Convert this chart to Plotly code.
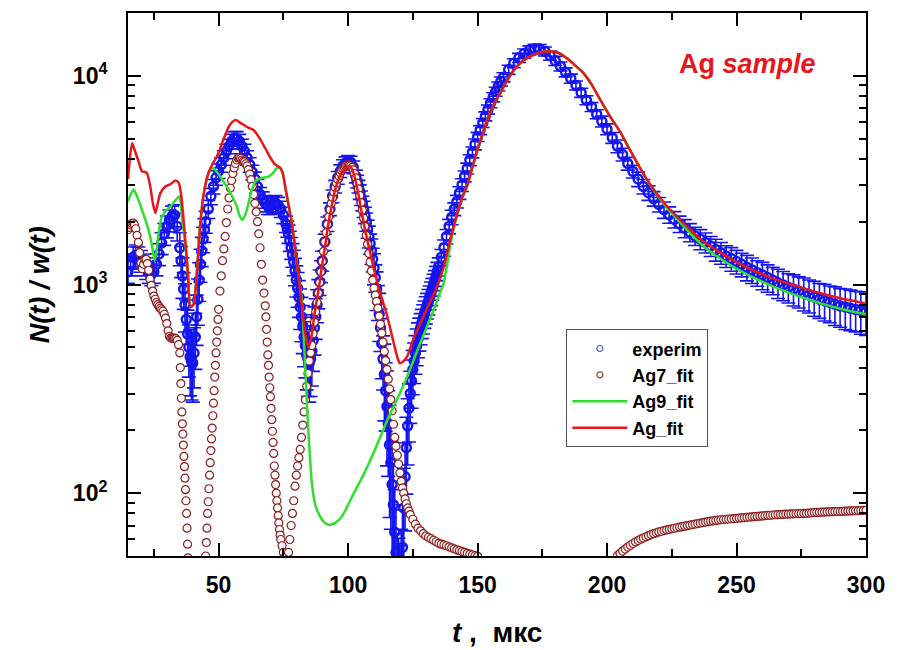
import plotly.graph_objects as go

# ---------------- experimental spectrum N(t)/w(t) ----------------
exp_t = list(range(15, 161)) + list(range(162, 301, 2))
exp_n = [
    1150, 1250, 1350, 1380, 1350, 1300, 1250, 1200, 1150, 1120,
    1150, 1250, 1400, 1580, 1750, 1900, 2030, 2120, 2150, 1900,
    1500, 1100, 800, 580, 450, 420, 560, 850, 1250, 1650,
    2000, 2300, 2650, 2950, 3250, 3500, 3750, 4050, 4350, 4600,
    4850, 5000, 5000, 4850, 4600, 4350, 4050, 3750, 3450, 3200,
    2950, 2700, 2550, 2450, 2380, 2380, 2420, 2450, 2400, 2300,
    2150, 1950, 1750, 1500, 1280, 1050, 870, 700, 560, 460,
    420, 480, 620, 800, 1030, 1300, 1600, 1950, 2300, 2650,
    2950, 3250, 3500, 3700, 3820, 3880, 3850, 3650, 3300, 2950,
    2600, 2300, 2000, 1700, 1450, 1200, 950, 720, 520, 370,
    260, 170, 110, 65, 40, 35, 55, 120, 210, 300,
    390, 470, 550, 620, 690, 760, 830, 910, 1000, 1100,
    1220, 1350, 1500, 1700, 1900, 2100, 2300, 2500, 2750, 3000,
    3300, 3600, 3950, 4300, 4700, 5100, 5500, 5950, 6400, 6900,
    7400, 7900, 8400, 8900, 9400, 9850,
    10700, 11500, 12200, 12800, 13250, 13500, 13450, 13100, 12500, 11800,
    11100, 10400, 9700, 9000, 8300, 7650, 7100, 6550, 6050, 5550,
    5050, 4600, 4200, 3800, 3480, 3200, 2950, 2750, 2580, 2420,
    2280, 2160, 2050, 1950, 1860, 1780, 1710, 1650, 1590, 1530,
    1470, 1420, 1370, 1330, 1290, 1250, 1210, 1175, 1140, 1110,
    1080, 1050, 1020, 995, 970, 950, 930, 910, 890, 870,
    850, 835, 820, 805, 790, 780, 770, 760, 750, 740,
]
# relative uncertainty of each point, percent
exp_err_pct = [
    12, 12, 12, 12, 12, 12, 12, 12, 12, 12,
    12, 12, 12, 12, 12, 12, 12, 12, 12, 15,
    18, 22, 26, 30, 35, 35, 30, 25, 18, 14,
    12, 10, 9, 8, 8, 8, 8, 8, 8, 8,
    8, 8, 8, 8, 8, 8, 8, 8, 8, 8,
    8, 8, 9, 9, 9, 9, 9, 9, 9, 9,
    9, 9, 10, 12, 14, 17, 20, 24, 28, 32,
    35, 32, 26, 18, 14, 11, 9, 8, 7, 7,
    7, 7, 7, 7, 7, 7, 7, 7, 7, 7,
    8, 9, 10, 12, 14, 17, 21, 26, 32, 40,
    48, 55, 60, 60, 60, 60, 60, 45, 35, 28,
    24, 21, 19, 17, 16, 15, 14, 13, 12, 11,
    10, 9, 9, 8, 8, 8, 7, 7, 7, 7,
    6, 6, 6, 6, 6, 5, 5, 5, 5, 5,
    5, 5, 5, 5, 5, 5,
    5, 5, 5, 5, 5, 5, 5, 5, 5, 5,
    5, 5, 5, 5, 5, 5, 5, 5, 6, 6,
    6, 7, 7, 7, 7, 8, 8, 8, 8, 8,
    9, 9, 9, 9, 10, 10, 10, 11, 11, 11,
    12, 12, 12, 13, 13, 13, 14, 14, 14, 15,
    15, 15, 16, 16, 16, 17, 17, 18, 18, 19,
    19, 20, 20, 21, 21, 22, 22, 22, 23, 23,
]

# extra half-step channels across the steep dips
exp_t_half = [35.5, 36.5, 37.5, 38.5, 39.5, 40.5, 41.5, 42.5, 43.5, 44.5,
              76.5, 77.5, 78.5, 79.5, 80.5, 81.5, 82.5, 83.5, 84.5, 85.5, 86.5, 87.5, 88.5, 89.5,
              103.5, 104.5, 105.5, 106.5, 107.5, 108.5, 109.5, 110.5, 111.5, 112.5,
              113.5, 114.5, 115.5, 116.5, 117.5, 118.5, 119.5, 120.5, 121.5, 122.5,
              123.5, 124.5, 125.5, 126.5, 127.5, 128.5, 129.5, 130.5, 131.5, 132.5,
              133.5, 134.5]
exp_n_half = [1300, 950, 680, 500, 430, 470, 700, 1050, 1450, 1830,
              1850, 1620, 1390, 1160, 960, 780, 630, 510, 440, 440, 540, 700, 910, 1160,
              3120, 2780, 2450, 2150, 1850, 1570, 1320, 1080, 830, 620,
              440, 310, 215, 140, 88, 52, 38, 42, 85, 165,
              255, 345, 430, 510, 585, 655, 725, 795, 870, 955,
              1050, 1160]
exp_err_pct_half = [17, 20, 24, 28, 35, 32, 27, 21, 16, 13,
                    9, 11, 13, 15, 19, 22, 26, 30, 34, 34, 29, 22, 16, 12,
                    7, 8, 8, 9, 10, 11, 13, 15, 19, 23,
                    29, 36, 44, 52, 58, 60, 60, 60, 55, 40,
                    31, 26, 22, 20, 18, 16, 15, 14, 13, 12,
                    11, 10]

all_t = exp_t + exp_t_half
all_n = exp_n + exp_n_half
all_err = [n * p / 100.0 for n, p in zip(all_n, exp_err_pct + exp_err_pct_half)]

# ---------------- Ag7 fit (visible branches) ----------------
ag7_t_a = [15, 15.5, 16, 16.5, 17, 17.5, 18, 18.5, 19, 19.5, 20, 20.5, 21, 21.5,
           22, 22.5, 23, 23.5, 24, 24.5, 25, 25.5, 26, 26.5, 27, 27.5, 28, 28.5,
           29, 29.5, 30, 30.5, 31, 31.5, 32, 32.5, 33, 33.5, 34, 34.5, 35,
           35.2, 35.4, 35.6, 35.8, 36.0, 36.2, 36.4, 36.6, 36.8, 37.0, 37.2,
           37.4, 37.6, 37.8, 38.0, 38.2]
ag7_n_a = [1830, 1880, 1930, 1960, 1970, 1930, 1850, 1720, 1590, 1420, 1270, 1190, 1250, 1320,
           1320, 1260, 1170, 1060, 990, 930, 880, 850, 820, 800, 785, 770, 757, 745,
           720, 690, 650, 600, 565, 555, 552, 552, 553, 550, 540, 515, 470,
           400, 335, 285, 245, 215, 192, 170, 150, 134, 118, 104,
           92, 80, 68, 57, 49]

ag7_t_b = [45.0, 45.25, 45.5, 45.75, 46.0, 46.25, 46.5, 46.75, 47.0, 47.25, 47.5, 47.75,
           48.0, 48.25, 48.5, 48.75, 49.0, 49.25, 49.5, 49.75, 50.0, 50.5, 51.0, 51.5,
           52.0, 52.5, 53.0, 53.5, 54.0, 54.5, 55.0, 55.5, 56.0, 56.5, 57.0, 57.5,
           58.0, 58.5, 59.0, 59.5, 60.0, 60.5, 61.0, 61.5, 62.0, 62.5, 63.0, 63.5,
           64.0, 64.5, 65.0, 65.5, 66.0, 66.5, 67.0, 67.5, 68.0, 68.25, 68.5, 68.75,
           69.0, 69.25, 69.5, 69.75, 70.0, 70.25, 70.5, 70.75, 71.0, 71.25, 71.5,
           71.75, 72.0, 72.25, 72.5, 72.75, 73.0, 73.25, 73.5, 73.75, 74.0, 74.5,
           75.0, 75.5]
ag7_n_b = [50, 58, 68, 80, 91, 105, 122, 140, 160, 182, 205, 235,
           270, 310, 360, 410, 470, 530, 600, 680, 760, 930, 1100, 1300,
           1480, 1700, 1980, 2300, 2600, 2900, 3150, 3400, 3620, 3800, 3950, 4040,
           4060, 4020, 3950, 3900, 3870, 3790, 3700, 3550, 3380, 3180, 2950, 2700,
           2450, 2230, 2000, 1750, 1500, 1250, 1050, 910, 790, 700, 610, 530,
           460, 410, 360, 320, 290, 255, 225, 198, 175, 155, 135,
           122, 110, 100, 92, 85, 78, 72, 67, 63, 60, 56,
           52, 49]

ag7_t_c = [76.5, 77.0, 77.5, 78.0, 78.5, 79.0, 79.5, 80.0, 80.5, 81.0, 81.5, 82.0,
           82.5, 83.0, 83.5, 84.0, 84.5, 85.0, 85.5, 86.0, 86.5, 87.0, 87.5, 88.0,
           88.5, 89.0, 89.5, 90.0, 90.5, 91.0, 91.5, 92.0, 92.5, 93.0, 93.5, 94.0,
           94.5, 95.0, 95.5, 96.0, 96.5, 97.0, 97.5, 98.0, 98.5, 99.0, 99.5, 100.0,
           100.5, 101.0, 101.5, 102.0, 102.5, 103.0, 103.5, 104.0, 104.5, 105.0,
           105.5, 106.0, 106.5, 107.0, 107.5, 108.0, 108.5, 109.0, 109.5, 110.0,
           110.5, 111.0, 111.5, 112.0, 112.5, 113.0, 113.5, 114.0, 114.5, 115.0,
           115.5, 116.0, 116.5, 117.0, 117.5, 118.0, 118.5, 119.0, 119.5, 120.0,
           120.5, 121.0, 121.5, 122.0, 122.5, 123.0, 123.5, 124, 125, 126, 127,
           128, 129, 130, 131, 132, 133, 134, 135, 136, 137, 138, 139, 140, 141,
           142, 143, 144, 145, 146, 147, 148, 149, 150]
ag7_n_c = [48, 52, 60, 70, 80, 92, 108, 122, 135, 148, 162, 185,
           212, 245, 280, 325, 375, 430, 470, 510, 580, 660, 740, 820,
           910, 1020, 1150, 1290, 1440, 1600, 1770, 1940, 2110, 2280, 2450, 2610,
           2770, 2920, 3060, 3190, 3310, 3420, 3510, 3590, 3650, 3700, 3730, 3740,
           3730, 3700, 3640, 3540, 3400, 3240, 3060, 2870, 2670, 2470,
           2270, 2080, 1900, 1720, 1560, 1410, 1280, 1160, 1050, 960,
           890, 830, 770, 705, 645, 585, 530, 478, 432, 392,
           352, 316, 281, 248, 214, 185, 168, 152, 138, 125,
           114, 106, 100, 94, 89, 85, 82, 79, 75, 71, 68,
           66, 64, 62.5, 61.5, 60.5, 59.5, 58.5, 57.5, 57, 56.5, 56, 55.3, 54.7, 54.1,
           53.5, 53, 52.5, 52, 51.5, 51, 50.6, 50.2, 49.8]

ag7_t_d = list(range(204, 301))
ag7_n_d = [50.2, 51.5, 52.8, 54, 55.2, 56.3, 57.4, 58.4, 59.3, 60.2,
           61, 61.8, 62.6, 63.3, 64, 64.6, 65.2, 65.7, 66.2, 66.7,
           67.1, 67.5, 67.9, 68.3, 68.7, 69.1, 69.5, 69.9, 70.3, 70.7,
           71.1, 71.5, 71.9, 72.3, 72.7, 73.1, 73.4, 73.7, 74, 74.3,
           74.6, 74.8, 75, 75.2, 75.4, 75.6, 75.8, 76, 76.2, 76.4,
           76.6, 76.8, 77, 77.2, 77.4, 77.6, 77.8, 78, 78.2, 78.4,
           78.6, 78.8, 78.9, 79, 79.1, 79.3, 79.4, 79.5, 79.6, 79.7,
           79.8, 79.9, 80, 80.1, 80.3, 80.5, 80.7, 80.9, 81, 81.1,
           81.2, 81.3, 81.4, 81.5, 81.6, 81.7, 81.8, 81.9, 82, 82.1,
           82.2, 82.3, 82.4, 82.5, 82.6, 82.7, 82.8]

ag7_t = ag7_t_a + ag7_t_b + ag7_t_c + ag7_t_d
ag7_n = ag7_n_a + ag7_n_b + ag7_n_c + ag7_n_d

# ---------------- Ag9 fit ----------------
ag9_t = [15, 16, 17.2, 18.5, 20.4, 22.9, 24.2, 25.3, 26.2, 26.8, 28.1, 30, 32, 34.6,
         35.2, 35.8, 37.1, 38.2, 39.1, 40.3, 41.5, 42.2, 43, 44, 45, 46, 47, 48.1,
         49, 50.5, 52, 53.9, 55.5, 57, 58, 59, 60, 60.9, 62.5, 64.2, 66.7, 69.3,
         71, 72.5, 73.8, 74.8, 75.7, 77, 78.3, 79.6, 80.9, 82.1, 83.4, 84.7, 86,
         87.3, 88.6, 90.5, 92.4, 95, 97.6, 100, 102.2, 104.8, 107.4, 110, 112.5,
         115, 117.6, 120.2, 122.8, 125.3, 127.9, 130.5, 133.1, 135, 136.9, 139.5,
         142, 144, 146, 148, 150, 152.3, 154, 156, 158.8, 161, 163, 165.2, 168,
         171.6, 175, 178, 181, 184.5, 187, 190.9, 194, 197.4, 201.2, 205, 208.9,
         212, 215.4, 219, 223.1, 227.5, 232.1, 238, 245, 251, 257.8, 264, 270.7,
         277, 283.5, 290, 295, 300]
ag9_n = [2500, 2700, 2850, 2640, 2280, 1830, 1550, 1300, 1500, 1760, 2120, 2280, 2410, 2640,
         2550, 2120, 1580, 1100, 780, 800, 1100, 1450, 2000, 2600, 3050, 3400, 3600, 3600,
         3500, 3300, 3100, 2850, 2600, 2370, 2150, 2040, 2120, 2280, 2750, 3120, 3240, 3290,
         3420, 3610, 3620, 3400, 2950, 2400, 1970, 1450, 1090, 845, 404, 194, 112,
         88, 80, 73, 70.6, 72, 77.3, 88, 100, 115, 134, 158, 187,
         222, 260, 305, 362, 435, 524, 630, 757, 880, 1015, 1550,
         2150, 2600, 2970, 3650, 4450, 5450, 6300, 7200, 8270, 9300, 10200, 11080, 11900,
         12600, 13000, 13100, 12900, 12150, 11400, 10300, 9100, 7670, 6380, 5400, 4400,
         3750, 3180, 2720, 2330, 2030, 1760, 1500, 1300, 1170, 1060, 980, 910,
         855, 805, 765, 740, 720]

# ---------------- combined Ag fit ----------------
ag_t = [15, 15.8, 16.6, 17.6, 19.1, 20.4, 21.3, 22.3, 23.6, 24.6, 25.6, 26.5, 27.5,
        29.4, 31.3, 33.3, 34.6, 35.5, 36.3, 37.1, 38.2, 39.1, 40.3, 41.5, 42.2, 43,
        44, 45, 46, 47, 48, 49.3, 50.5, 52, 53.9, 55.5, 56.7, 58, 59.6, 61.5, 63.5,
        65.5, 68, 70, 71.9, 73.8, 74.8, 75.7, 77, 78.3, 79.6, 80.9, 82.2, 83.5, 84.6,
        85.6, 86.6, 87.6, 88.6, 90, 91.2, 92.4, 93.7, 95, 96.5, 98, 99.5, 100.9, 102,
        103, 104, 104.8, 106, 107.3, 108.6, 110, 111.5, 113, 114.5, 116.4, 118, 119.2,
        119.9, 121, 122.8, 125, 127.9, 130.5, 133.1, 135, 137, 139.5, 142, 144, 146,
        148, 150, 152.3, 154, 156, 158.8, 161, 163, 165.2, 168, 171.6, 175, 178, 181,
        184.5, 187, 190.9, 194, 197.4, 201.2, 205, 208.9, 212, 215.4, 219, 223.1,
        227.5, 232.1, 238, 245, 251, 257.8, 264, 270.7, 277, 283.5, 290, 295, 300]
ag_n = [3200, 4100, 4750, 4400, 3880, 3480, 3470, 3420, 2950, 2450, 2200, 2450, 2740,
        2950, 3020, 3150, 3070, 2700, 2150, 1640, 1100, 780, 800, 1100, 1450, 2000,
        2600, 3050, 3400, 3650, 3850, 4100, 4450, 5000, 5700, 6050, 6150, 6000, 5830, 5650, 5500,
        5100, 4500, 4050, 3750, 3620, 3400, 2950, 2400, 1970, 1450, 1090, 780, 580, 500,
        540, 660, 800, 944, 1250, 1550, 1970, 2400, 2850, 3250, 3500, 3650, 3680, 3450,
        3100, 2700, 2370, 1980, 1650, 1410, 1180, 1000, 860, 750, 607, 500, 440,
        420, 425, 452, 540, 653, 770, 900, 1030, 1220, 1650, 2150, 2600, 2970,
        3650, 4450, 5450, 6300, 7200, 8270, 9300, 10200, 11080, 11900, 12600, 13000, 13100, 12900,
        12150, 11400, 10300, 9100, 7670, 6380, 5400, 4400, 3750, 3180, 2750, 2370,
        2080, 1830, 1580, 1390, 1260, 1150, 1070, 1005, 950, 900, 860, 835, 810]

# ---------------- axis ticks ----------------
x_major = [50, 100, 150, 200, 250, 300]
x_minor = [25, 75, 125, 175, 225, 275]
y_major = [100, 1000, 10000]
y_major_text = ["10<sup>2</sup>", "10<sup>3</sup>", "10<sup>4</sup>"]
y_minor = [60, 70, 80, 90, 200, 300, 400, 500, 600, 700, 800, 900,
           2000, 3000, 4000, 5000, 6000, 7000, 8000, 9000]

FONT = "Liberation Sans, Arial, sans-serif"
BLUE = "#1414f0"
BROWN = "#8b1c1c"
GREEN = "#2de02d"
RED = "#e8151b"

fig = go.Figure()
fig.add_trace(go.Scatter(
    x=all_t, y=all_n, mode="markers", name="experim", showlegend=False,
    marker=dict(symbol="circle-open", size=9, color=BLUE, line=dict(width=2.4, color=BLUE)),
    error_y=dict(type="data", array=all_err, visible=True, color=BLUE, thickness=1.6, width=7),
))
fig.add_trace(go.Scatter(
    x=ag7_t, y=ag7_n, mode="markers", name="Ag7_fit", showlegend=False,
    marker=dict(symbol="circle", size=8, color="white", line=dict(width=1.2, color=BROWN)),
))
fig.add_trace(go.Scatter(
    x=ag9_t, y=ag9_n, mode="lines", name="Ag9_fit", legendrank=3,
    line=dict(color=GREEN, width=2.5, shape="spline", smoothing=0.6),
))
fig.add_trace(go.Scatter(
    x=ag_t, y=ag_n, mode="lines", name="Ag_fit", legendrank=4,
    line=dict(color=RED, width=2.5, shape="spline", smoothing=0.6),
))
# small legend symbols for the two marker series
fig.add_trace(go.Scatter(
    x=[None], y=[None], mode="markers", name="experim", legendrank=1,
    marker=dict(symbol="circle-open", size=6, color="#5555dd", line=dict(width=1.2)),
))
fig.add_trace(go.Scatter(
    x=[None], y=[None], mode="markers", name="Ag7_fit", legendrank=2,
    marker=dict(symbol="circle-open", size=6, color="#8b4040", line=dict(width=1.2)),
))

axis_common = dict(
    showgrid=False, zeroline=False, showline=True, linecolor="black", linewidth=2,
    mirror="ticks", ticks="inside", ticklen=13, tickwidth=2, tickcolor="black",
    tickfont=dict(family=FONT, size=23, color="black", weight="bold"),
)
fig.update_xaxes(
    range=[15, 300], tickmode="array", tickvals=x_major, ticklabelstandoff=7,
    minor=dict(tickmode="array", tickvals=x_minor, ticks="inside", ticklen=7,
               tickwidth=1.5, tickcolor="black", showgrid=False),
    **axis_common,
)
fig.update_yaxes(
    type="log", range=[1.69897, 4.30103], tickmode="array", tickvals=y_major,
    ticktext=y_major_text, ticklabelstandoff=14,
    minor=dict(tickmode="array", tickvals=y_minor, ticks="inside", ticklen=7,
               tickwidth=1.5, tickcolor="black", showgrid=False),
    **axis_common,
)

fig.update_layout(
    width=899, height=650,
    margin=dict(l=128, r=33, t=13, b=94),
    paper_bgcolor="white", plot_bgcolor="white",
    font=dict(family=FONT, color="black"),
    legend=dict(
        x=0.594, y=0.4175, xanchor="left", yanchor="top",
        bgcolor="white", bordercolor="#555555", borderwidth=1,
        font=dict(family=FONT, size=18, color="black", weight="bold"),
        tracegroupgap=0, itemwidth=55,
    ),
    annotations=[
        dict(text="<b><i>N(t) / w(t)</i></b>", xref="paper", yref="paper",
             x=-0.1195, y=0.5, xanchor="center", yanchor="middle", textangle=-90,
             showarrow=False, font=dict(family=FONT, size=27, color="black")),
        dict(text="<b><i>t</i> ,&nbsp;&nbsp;мкс</b>", xref="paper", yref="paper",
             x=0.5, y=-0.1418, xanchor="center", yanchor="middle",
             showarrow=False, font=dict(family=FONT, size=28, color="black")),
        dict(text="<b>Ag <i>sample</i></b>", xref="paper", yref="paper",
             x=0.840, y=0.906, xanchor="center", yanchor="middle",
             showarrow=False, font=dict(family=FONT, size=27, color=RED)),
    ],
)

fig.write_html("out.html")
